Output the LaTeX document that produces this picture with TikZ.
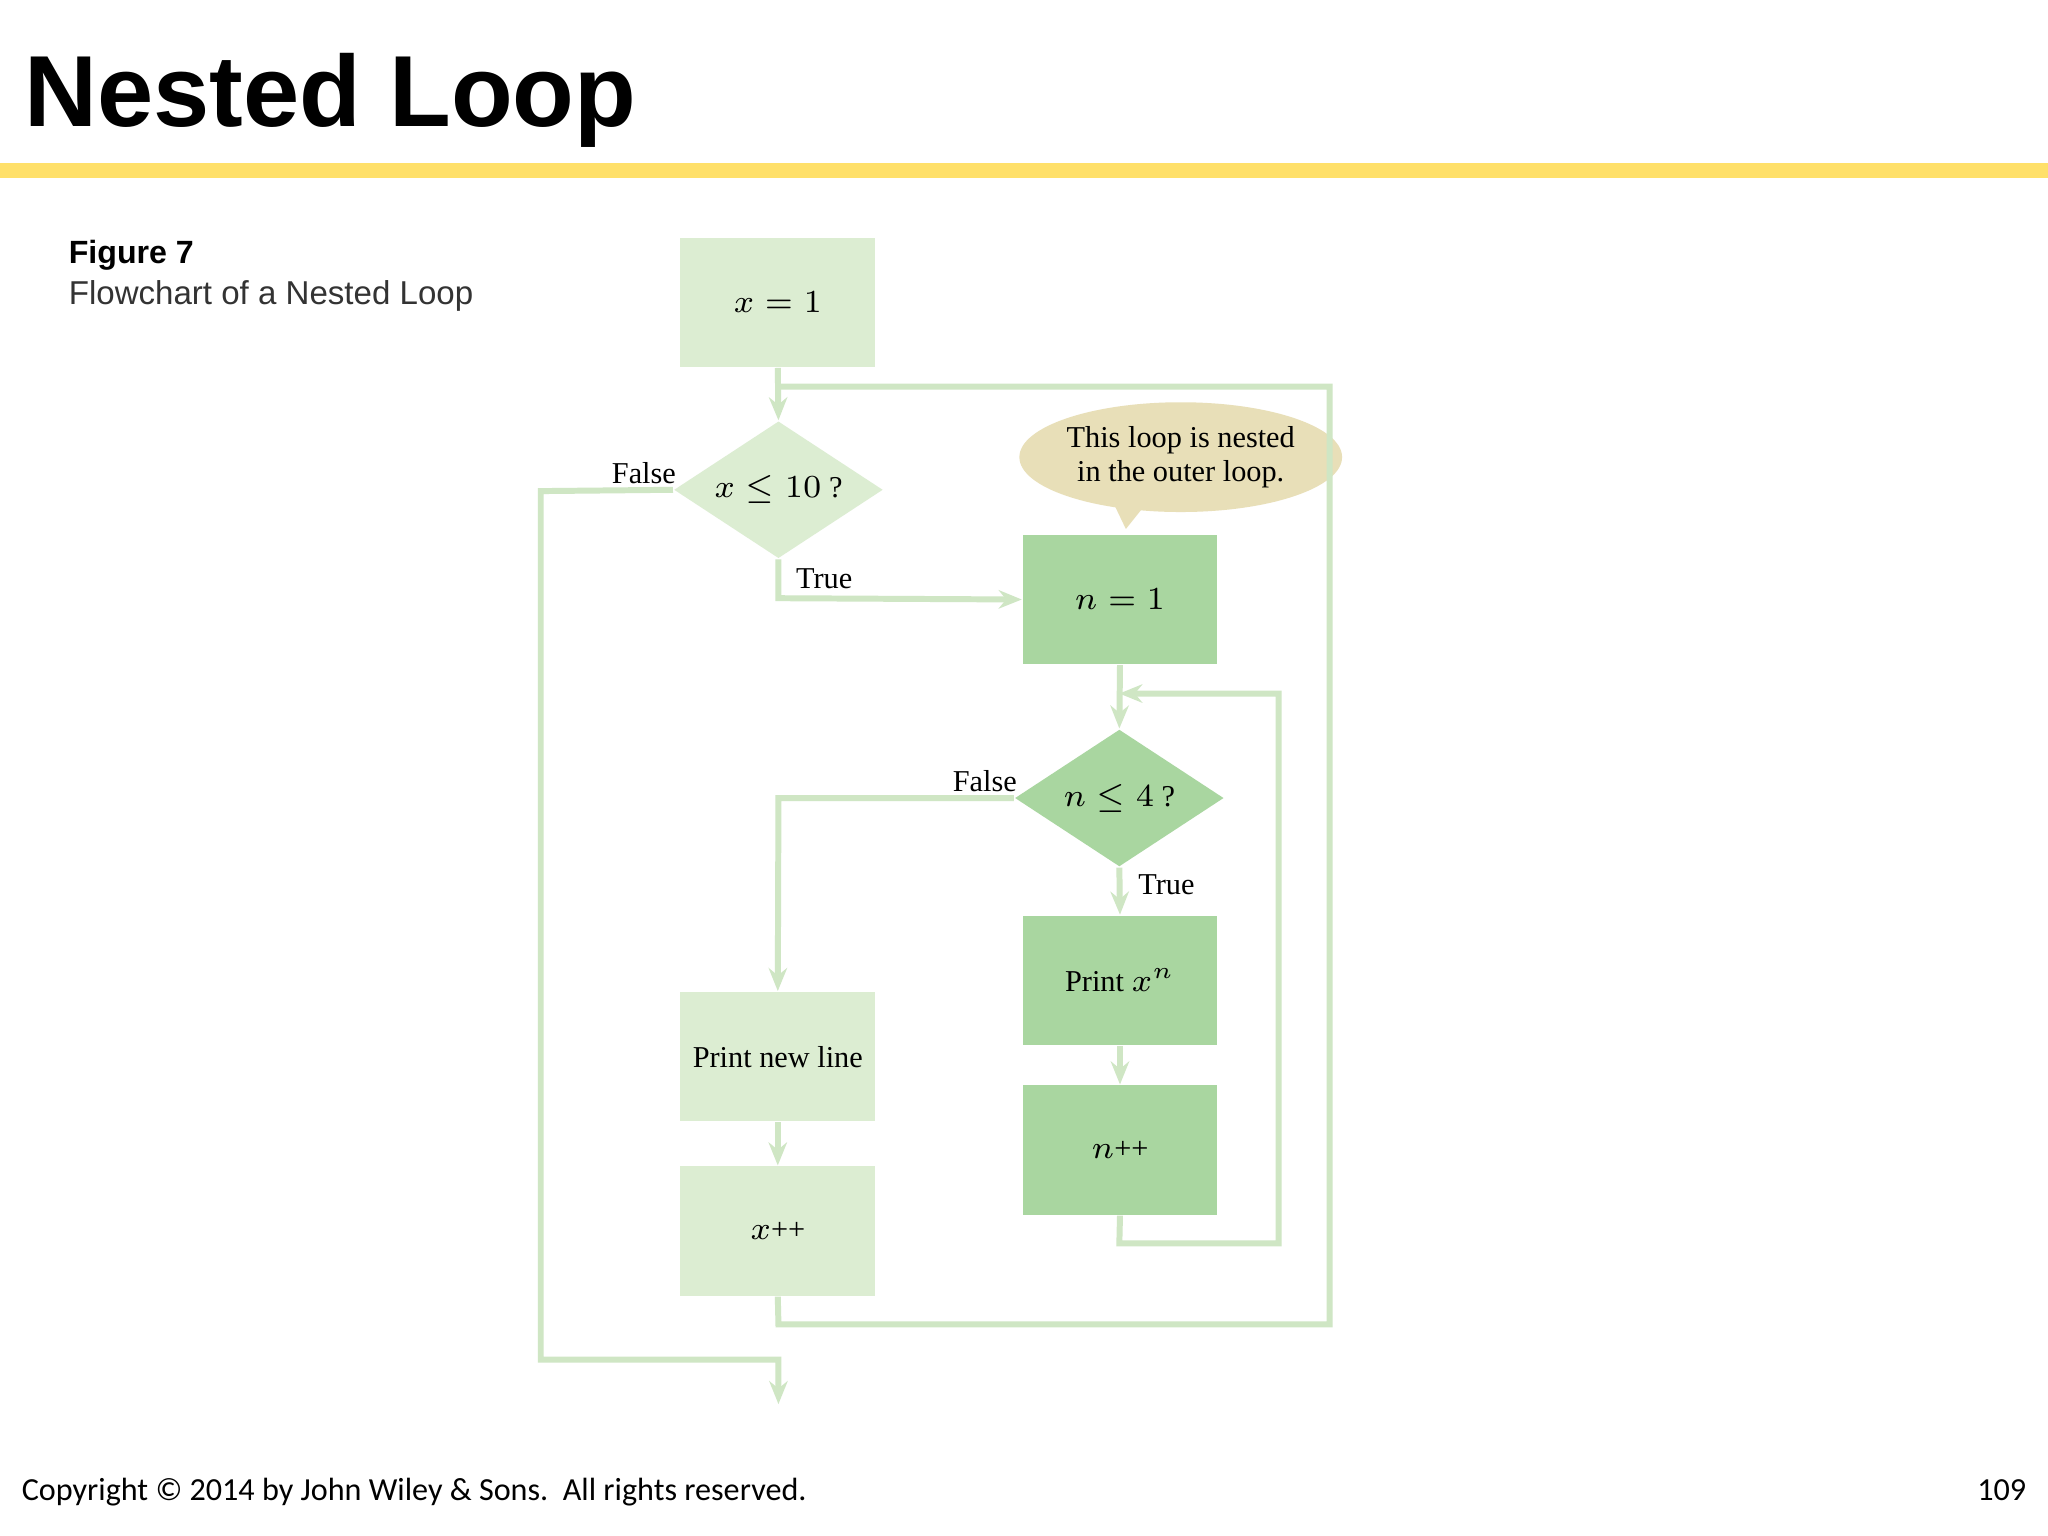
\documentclass[tikz,border=0pt]{standalone}
\usepackage{fontspec}
\setmainfont{Liberation Serif}
\newfontfamily\sans{Liberation Sans}
\newfontfamily\carl{Carlito}
\usetikzlibrary{shapes.geometric,arrows.meta}
\begin{document}
\begin{tikzpicture}[x=0.01cm,y=-0.01cm,
  line/.style={draw=lineg,line width=1.3pt},
  arr/.style={line,-{Stealth[length=5pt,width=4pt]}},
  lbox/.style={fill=boxl,minimum width=1.49cm,minimum height=0.99cm,inner sep=0pt,font=\fontsize{6.6}{8}\selectfont},
  dbox/.style={fill=boxd,minimum width=1.49cm,minimum height=0.99cm,inner sep=0pt,font=\fontsize{6.6}{8}\selectfont},
  dia/.style={diamond,aspect=1.5,inner sep=0pt,minimum width=1.6cm,minimum height=1.05cm,font=\fontsize{6.6}{8}\selectfont},
  lab/.style={font=\fontsize{6.6}{8}\selectfont,inner sep=0pt}]
\definecolor{boxl}{HTML}{DCEDD2}
\definecolor{boxd}{HTML}{A9D6A0}
\definecolor{lineg}{HTML}{CFE6C4}
\definecolor{tan}{HTML}{E8DFB8}
\definecolor{yel}{HTML}{FFE06A}
\fill[white] (0,0) rectangle (1568,1176);
\useasboundingbox (0,0) rectangle (1568,1176);
\node[anchor=base west,inner sep=0pt,font=\sans\bfseries\fontsize{22}{26}\selectfont] (title) at (18,97) {Nested Loop};
\fill[yel] (0,125) rectangle (1568,136);
\node[anchor=base west,inner sep=0pt,font=\sans\bfseries\fontsize{7}{8}\selectfont] (fig) at (52,202) {Figure 7};
\node[anchor=base west,inner sep=0pt,font=\sans\fontsize{7.2}{8}\selectfont,text=black!80] (cap) at (52,233) {Flowchart of a Nested Loop};
% nodes
\node[lbox] (x1) at (595.5,231.5) {$x = 1$};
\node[dia,fill=boxl] (d1) at (596,375) {$x \leq 10$ ?};
\node[dbox] (n1) at (857.5,459) {$n = 1$};
\node[dia,fill=boxd] (d2) at (857,611) {$n \leq 4$ ?};
\node[dbox] (px) at (857.5,750.5) {Print $x^n$};
\node[dbox] (npp) at (857.5,880.5) {$n$++};
\node[lbox] (pnl) at (595.5,809) {Print new line};
\node[lbox] (xpp) at (595.5,942.5) {$x$++};
% callout
\fill[tan] (850,380) -- (862,405) -- (878,385) -- cycle;
\node[ellipse,fill=tan,minimum width=2.16cm,minimum height=0.84cm,inner sep=0pt,align=center,font=\fontsize{6.6}{7.5}\selectfont] (call) at (904,350) {This loop is nested\\in the outer loop.};
% coordinates
\coordinate (a1) at (596,296); \coordinate (a2) at (1018,296); \coordinate (a3) at (1018,1014); \coordinate (a4) at (596,1014);
\coordinate (f1) at (414,376); \coordinate (f2) at (414,1041); \coordinate (f3) at (596,1041); \coordinate (f4) at (596,1075);
\coordinate (t1) at (596,458);
\coordinate (b1) at (857,531); \coordinate (b2) at (979,531); \coordinate (b3) at (979,952); \coordinate (b4) at (857,952);
\coordinate (g1) at (596,611);
% connectors
\draw[arr] (x1.south) -- (d1.north);
\draw[line] (xpp.south) -- (a4) -- (a3) -- (a2) -- (a1);
\draw[arr] (d1.west) -- (f1) -- (f2) -- (f3) -- (f4);
\draw[arr] (d1.south) -- (t1) -- (n1.west);
\draw[arr] (n1.south) -- (d2.north);
\draw[arr] (npp.south) -- (b4) -- (b3) -- (b2) -- (b1);
\draw[arr] (d2.west) -- (g1) -- (pnl.north);
\draw[arr] (d2.south) -- (px.north);
\draw[arr] (px.south) -- (npp.north);
\draw[arr] (pnl.south) -- (xpp.north);
% labels
\node[lab] (lf1) at (493,362) {False};
\node[lab] (lt1) at (631,443) {True};
\node[lab] (lf2) at (754,598) {False};
\node[lab] (lt2) at (893,677) {True};
\node[anchor=base west,inner sep=0pt,font=\carl\fontsize{7}{8}\selectfont] (copy) at (16,1149) {Copyright © 2014 by John Wiley \& Sons.\ \ All rights reserved.};
\node[anchor=base east,inner sep=0pt,font=\carl\fontsize{7}{8}\selectfont] (pg) at (1552,1149) {109};
\end{tikzpicture}
\end{document}
